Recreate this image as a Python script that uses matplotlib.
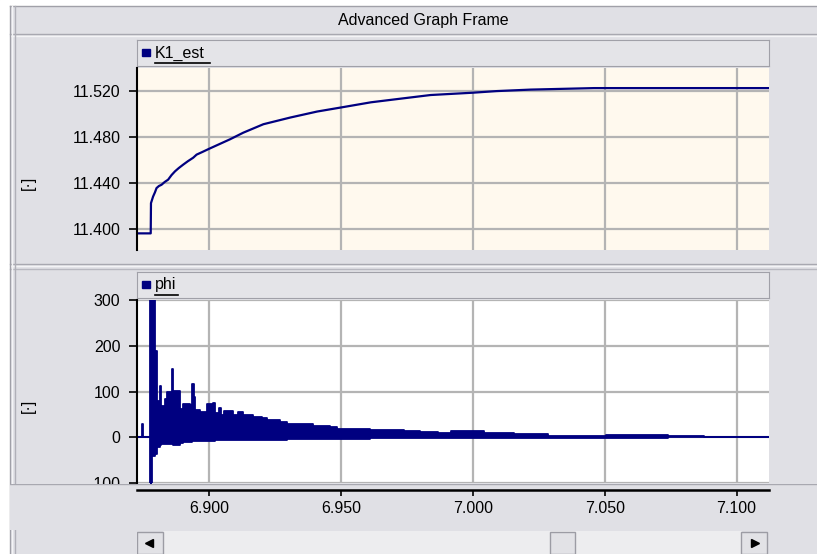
import matplotlib
matplotlib.use("Agg")
import matplotlib.pyplot as plt
from matplotlib.patches import Rectangle

plt.rcParams["font.family"] = ["Liberation Sans", "DejaVu Sans"]

W, H = 817, 554

# ---- data ----
k1_t = [6.8723, 6.8779, 6.8780, 6.8788, 6.8795, 6.8801, 6.8810, 6.8820, 6.8832,
        6.8845, 6.8858, 6.8871, 6.8885, 6.8902, 6.8920, 6.8940, 6.8953, 6.8975,
        6.9000, 6.9080, 6.9130, 6.9206, 6.9308, 6.9410, 6.9500, 6.9614, 6.9714,
        6.9840, 7.0000, 7.0090, 7.0220, 7.0460, 7.1123]
k1_val = [11.3965, 11.3965, 11.4227, 11.4284, 11.4320, 11.4357, 11.4375, 11.4386, 11.4410,
          11.4430, 11.4470, 11.4502, 11.4530, 11.4560, 11.4590, 11.4620, 11.4647, 11.4670,
          11.4697, 11.4780, 11.4837, 11.4910, 11.4968, 11.5020, 11.5055, 11.5100, 11.5128,
          11.5163, 11.5183, 11.5197, 11.5210, 11.5223, 11.5223]

# phi: upper / lower envelope of the oscillation
phi_t = [6.8723, 6.8745, 6.8748, 6.8775, 6.8783, 6.8795, 6.8803, 6.8814, 6.8818, 6.8833,
         6.8839, 6.8858, 6.8864, 6.8890, 6.8902, 6.8928, 6.8935, 6.8943, 6.8947, 6.8966,
         6.8991, 6.9016, 6.9023, 6.9038, 6.9046, 6.9057, 6.9092, 6.9111, 6.9130, 6.9168,
         6.9202, 6.9221, 6.9270, 6.9297, 6.9335, 6.9395, 6.9460, 6.9487, 6.9550, 6.9612,
         6.9680, 6.9738, 6.9800, 6.9867, 6.9916, 7.0042, 7.0156, 7.0285, 7.0506, 7.0741,
         7.0878, 7.1123]
phi_hi = [0, 30, 0, 320, 320, 189, 80, 113, 68, 84,
          99, 150, 101, 62, 72, 70, 117, 88, 60, 55,
          72, 75, 52, 65, 49, 57, 49, 56, 49, 45,
          41, 38, 34, 30, 28, 25, 23, 19, 18, 16,
          15, 13, 12, 10, 13, 9, 7, 2, 5, 3,
          0, 0]
phi_lo = [0, 0, 0, -110, -40, -36, -22, -18, -15, -14,
          -14, -12, -16, -12, -10, -10, -9, -9, -8, -8,
          -8, -8, -7, -7, -7, -6, -6, -6, -6, -5,
          -5, -5, -5, -4, -4, -4, -3, -3, -3, -2,
          -2, -2, -2, -2, -1, -1, -1, -1, -1, 0,
          0, 0]

x_ticks = [6.900, 6.950, 7.000, 7.050, 7.100]
k1_ticks = [11.400, 11.440, 11.480, 11.520]
phi_ticks = [-100, 0, 100, 200, 300]

x_range = (6.8727, 7.1123)
k1_range = (11.3821, 11.5397)
phi_range = (-100, 300)

NAVY = "#000080"
FRAME = "#E0E0E5"
GRID = "#B4B4B4"
FS = 11.5


def px_axes(x0, y0, x1, y1, **kw):
    return fig.add_axes([x0 / W, 1 - y1 / H, (x1 - x0) / W, (y1 - y0) / H], **kw)


fig = plt.figure(figsize=(W / 100, H / 100), dpi=100, facecolor=FRAME)

# background frame drawn in pixel coordinates
bg = px_axes(0, 0, W, H, zorder=-5)
bg.set_xlim(0, W)
bg.set_ylim(H, 0)
bg.axis("off")
bg.add_patch(Rectangle((0, 0), W, 5, color="white"))
bg.add_patch(Rectangle((0, 0), 9, H, color="white"))
for y, c in [(6, "#A0A0A8"), (34, "#A8A8B0"), (36, "#F4F4F6"), (264, "#A8A8B0"),
             (266, "#F4F4F6"), (269, "#B8B8C0")]:
    bg.plot([10, W], [y, y], color=c, lw=1)
for x, c in [(10, "#A0A0A8"), (12, "#F4F4F6"), (15, "#B0B0B8")]:
    bg.plot([x, x], [6, H], color=c, lw=1)
bg.text(423, 21, "Advanced Graph Frame", ha="center", va="center", fontsize=FS)
bg.text(28, 183, "[·]", ha="center", va="center", rotation=90, fontsize=FS)
bg.text(28, 406, "[·]", ha="center", va="center", rotation=90, fontsize=FS)


def legend_bar(y0, y1, name, ul_w):
    lg = px_axes(137, y0, 769, y1)
    lg.set_xlim(0, 632)
    lg.set_ylim(y1 - y0, 0)
    lg.set_facecolor("#E4E4E8")
    for s in lg.spines.values():
        s.set_color("#A0A0A8")
    lg.set_xticks([])
    lg.set_yticks([])
    lg.add_patch(Rectangle((5, 9), 8, 7, color=NAVY))
    lg.text(18, 13, name, ha="left", va="center", fontsize=FS)
    lg.plot([18, 18 + ul_w], [23, 23], color="black", lw=1.2)


def style_panel(ax, yticks, ylim, fmt):
    ax.set_xlim(*x_range)
    ax.set_ylim(*ylim)
    ax.set_xticks(x_ticks)
    ax.set_yticks(yticks)
    ax.set_yticklabels([fmt.format(v) for v in yticks])
    ax.tick_params(axis="x", length=0, labelbottom=False)
    ax.tick_params(axis="y", direction="out", length=6, width=1.2, pad=6,
                   labelsize=FS, colors="black")
    ax.grid(True, color=GRID, lw=1.6)
    ax.set_axisbelow(True)
    for k in ["top", "right", "bottom"]:
        ax.spines[k].set_visible(False)
    ax.spines["left"].set_linewidth(1.5)


# top panel: K1_est
legend_bar(40, 66, "K1_est", 55)
ax1 = px_axes(137, 68, 769, 250)
ax1.set_facecolor("#FFF9EE")
style_panel(ax1, k1_ticks, k1_range, "{:.3f}")
ax1.plot(k1_t, k1_val, color=NAVY, lw=1.6)

# bottom panel: phi
legend_bar(272, 298, "phi", 23)
ax2 = px_axes(137, 300, 769, 483)
ax2.set_facecolor("white")
style_panel(ax2, phi_ticks, phi_range, "{:.0f}")
ax2.fill_between(phi_t, phi_lo, phi_hi, step="post", color=NAVY, lw=0)
ax2.step(phi_t, phi_hi, where="post", color=NAVY, lw=1.3)
ax2.step(phi_t, phi_lo, where="post", color=NAVY, lw=1.3)

# band covering the lower edge of the bottom panel
band = px_axes(10, 484, W, 530, zorder=5)
band.set_facecolor(FRAME)
band.axis("off")
band.add_patch(Rectangle((0, 0), 1, 1, transform=band.transAxes, color=FRAME))
band.plot([0, 1], [0.99, 0.99], transform=band.transAxes, color="#A8A8B0", lw=1)

# shared time axis
axx = px_axes(137, 490, 769, 497, zorder=6)
axx.patch.set_alpha(0)
axx.set_xlim(*x_range)
axx.set_yticks([])
axx.set_xticks(x_ticks)
axx.set_xticklabels(["{:.3f}".format(v) for v in x_ticks])
for k in ["left", "right", "bottom"]:
    axx.spines[k].set_visible(False)
axx.spines["top"].set_linewidth(1.8)
axx.tick_params(axis="x", top=True, bottom=False, direction="in", length=4,
                width=1.2, labelsize=FS, pad=3)

# scrollbar
sb = px_axes(137, 531, 769, 554, zorder=6)
sb.set_xlim(137, 769)
sb.set_ylim(554, 531)
sb.axis("off")
sb.add_patch(Rectangle((163, 531), 578, 23, color="#EDEDEF"))
for x0 in (137, 741, 550):
    w = 26 if x0 != 550 else 25
    sb.add_patch(Rectangle((x0, 532), w, 22, facecolor="#E2E2E6",
                           edgecolor="#9C9CA4", lw=1))
sb.plot([149], [543], marker="<", color="black", ms=6)
sb.plot([755], [543], marker=">", color="black", ms=6)

fig.savefig("out.png", dpi=100, facecolor=FRAME)
